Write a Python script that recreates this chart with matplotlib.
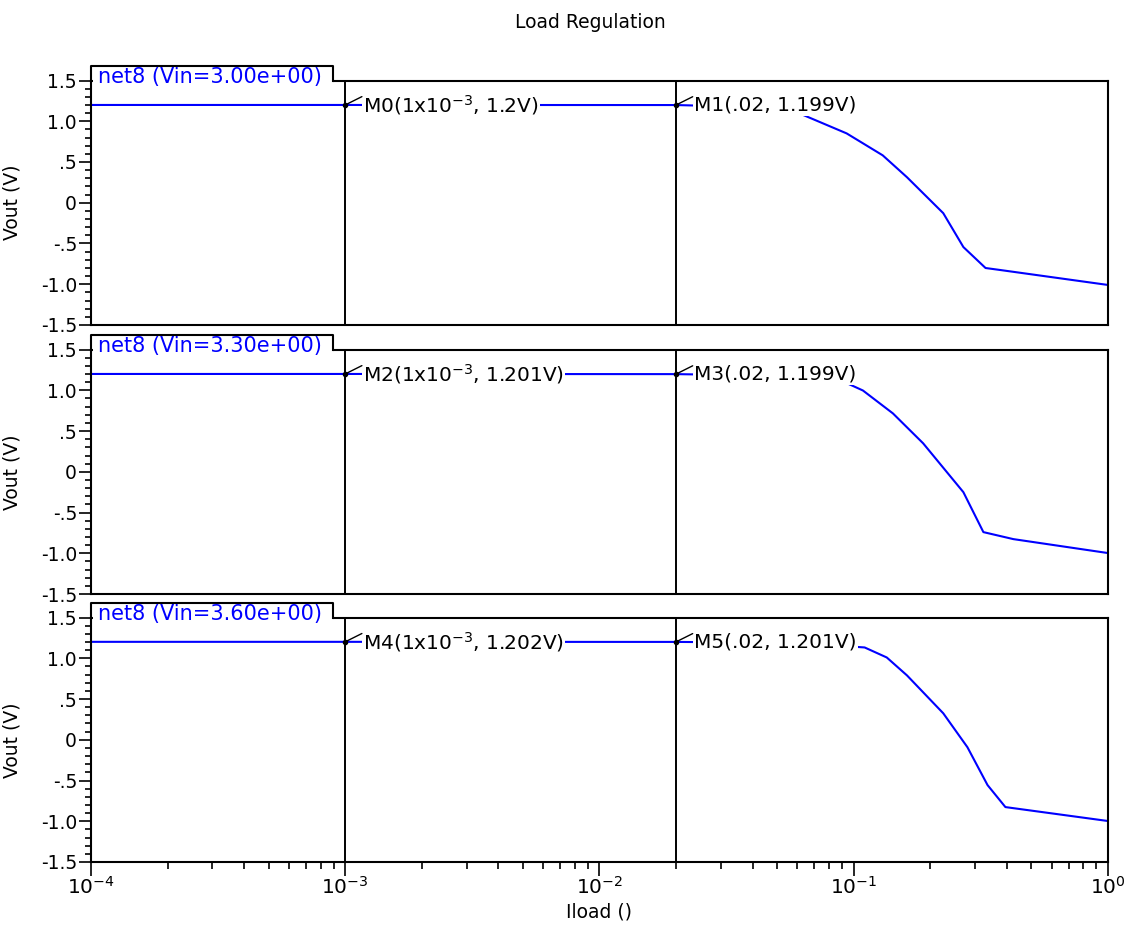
import numpy as np
import matplotlib
matplotlib.use("Agg")
import matplotlib.pyplot as plt
from matplotlib.patches import Rectangle
from matplotlib.lines import Line2D
from matplotlib.ticker import MultipleLocator, FixedLocator, FixedFormatter, LogLocator, NullFormatter

plt.rcParams["font.family"] = ["DejaVu Sans"]

BLUE = "#0000ff"

# sweep labels (one per panel)
SWEEP_LABELS = ["net8 (Vin=3.00e+00)", "net8 (Vin=3.30e+00)", "net8 (Vin=3.60e+00)"]

# Iload (A) and Vout (V), one pair per panel
ILOAD_1 = [1e-4, 1e-3, 0.02, 0.035, 0.0574, 0.0938, 0.130, 0.162, 0.225, 0.270, 0.330, 0.378, 1.0]
VOUT_1 = [1.2, 1.2, 1.199, 1.18, 1.133, 0.851, 0.582, 0.313, -0.128, -0.544, -0.801, -0.826, -1.009]

ILOAD_2 = [1e-4, 1e-3, 0.02, 0.05, 0.0857, 0.1087, 0.1426, 0.1875, 0.270, 0.3236, 0.4246, 1.0]
VOUT_2 = [1.201, 1.201, 1.199, 1.18, 1.145, 0.998, 0.717, 0.350, -0.250, -0.740, -0.826, -0.997]

ILOAD_3 = [1e-4, 1e-3, 0.02, 0.06, 0.1104, 0.1349, 0.162, 0.225, 0.280, 0.336, 0.395, 1.0]
VOUT_3 = [1.202, 1.202, 1.201, 1.19, 1.133, 1.010, 0.790, 0.325, -0.091, -0.556, -0.826, -0.997]

# markers: (x, y, text) per panel
MARKERS = [
    [(1e-3, 1.2, r"M0(1x10$^{-3}$, 1.2V)"), (0.02, 1.199, "M1(.02, 1.199V)")],
    [(1e-3, 1.201, r"M2(1x10$^{-3}$, 1.201V)"), (0.02, 1.199, "M3(.02, 1.199V)")],
    [(1e-3, 1.202, r"M4(1x10$^{-3}$, 1.202V)"), (0.02, 1.201, "M5(.02, 1.201V)")],
]

Y_TICKS = [-1.5, -1.0, -0.5, 0, 0.5, 1.0, 1.5]
Y_TICK_LABELS = ["-1.5", "-1.0", "-.5", "0", ".5", "1.0", "1.5"]

series = [(ILOAD_1, VOUT_1), (ILOAD_2, VOUT_2), (ILOAD_3, VOUT_3)]

fig = plt.figure(figsize=(11.4, 9.33), dpi=100)
left, width = 0.0798, 0.8921
bottoms = [0.6517, 0.3633, 0.0761]
height = 0.2620
FS = 13.5
TAB_W, TAB_H = 0.238, 0.061

for i, (xs, ys) in enumerate(series):
    ax = fig.add_axes([left, bottoms[i], width, height])
    ax.set_xscale("log")
    ax.set_xlim(1e-4, 1.0)
    ax.set_ylim(-1.5, 1.5)

    ax.plot(xs, ys, color=BLUE, lw=1.5, zorder=2)

    # marker verticals
    for mx, my, mtxt in MARKERS[i]:
        ax.axvline(mx, color="black", lw=1.4, zorder=3)
        ax.plot([mx], [my], "o", color="black", ms=3, zorder=5)
        ax.annotate("", xy=(mx, my), xytext=(12, 6), textcoords="offset points",
                    arrowprops=dict(arrowstyle="-", color="black", lw=1.0,
                                    shrinkA=0, shrinkB=0), zorder=5)
        ax.annotate(mtxt, xy=(mx, my), xytext=(13, 0), textcoords="offset points",
                    ha="left", va="center", fontsize=14.5, color="black", zorder=4,
                    bbox=dict(boxstyle="square,pad=0.05", fc="white", ec="none"))

    # sweep tab: open at the bottom, text dips into the plot area
    ax.add_patch(Rectangle((0.002, 0.975), TAB_W - 0.002, TAB_H + 0.025, transform=ax.transAxes,
                           facecolor="white", edgecolor="none", clip_on=False, zorder=6))
    ax.add_line(Line2D([0.0, 0.0, TAB_W, TAB_W], [1.0, 1.0 + TAB_H, 1.0 + TAB_H, 1.0],
                       transform=ax.transAxes, color="black", lw=1.5,
                       clip_on=False, zorder=7))
    ax.text(0.007, 0.99, SWEEP_LABELS[i], transform=ax.transAxes, color=BLUE,
            fontsize=15, ha="left", va="baseline", zorder=8)

    ax.yaxis.set_major_locator(FixedLocator(Y_TICKS))
    ax.yaxis.set_major_formatter(FixedFormatter(Y_TICK_LABELS))
    ax.yaxis.set_minor_locator(MultipleLocator(0.1))
    ax.tick_params(axis="y", which="major", direction="out", length=9, width=1.2,
                   labelsize=FS, pad=1)
    ax.tick_params(axis="y", which="minor", direction="out", length=4, width=1.2)
    ax.set_ylabel("Vout (V)", fontsize=FS)
    ax.yaxis.set_label_coords(-0.068, 0.5)

    ax.xaxis.set_major_locator(LogLocator(base=10, numticks=10))
    ax.xaxis.set_minor_locator(LogLocator(base=10, subs=np.arange(2, 10), numticks=20))
    ax.xaxis.set_minor_formatter(NullFormatter())
    if i < 2:
        ax.tick_params(axis="x", which="both", bottom=False, labelbottom=False)
    else:
        ax.tick_params(axis="x", which="major", direction="out", length=10, width=1.2,
                       labelsize=FS + 1, pad=0)
        ax.tick_params(axis="x", which="minor", direction="out", length=5, width=1.2)
        ax.set_xlabel("Iload ()", fontsize=FS)
        ax.xaxis.set_label_coords(0.5, -0.165)

    for sp in ax.spines.values():
        sp.set_linewidth(1.5)
        sp.set_color("black")

fig.text(0.5175, 1 - 22 / 933, "Load Regulation", ha="center", va="center", fontsize=FS)

fig.savefig("out.png", dpi=100)
